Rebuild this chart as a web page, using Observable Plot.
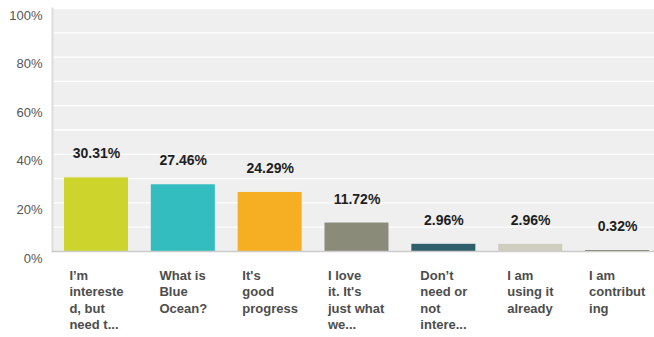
<!DOCTYPE html>
<html>
<head>
<meta charset="utf-8">
<script src="https://cdn.jsdelivr.net/npm/d3@7"></script>
<script src="https://cdn.jsdelivr.net/npm/@observablehq/plot@0.6"></script>
<style>
  body { margin: 0; background: #fff; }
  #chart svg { display: block; }
</style>
</head>
<body>
<div id="chart"></div>
<script>
const categories = ["interested", "whatis", "progress", "love", "dontneed", "using", "contributing"];
const tickLabels = [
  "I’m\nintereste\nd, but\nneed t...",
  "What is\nBlue\nOcean?",
  "It's\ngood\nprogress",
  "I love\nit. It's\njust what\nwe...",
  "Don’t\nneed or\nnot\nintere...",
  "I am\nusing it\nalready",
  "I am\ncontribut\ning"
];
const values = [30.31, 27.46, 24.29, 11.72, 2.96, 2.96, 0.32];
const colors = ["#cdd42b", "#33bdbf", "#f6ae22", "#8a8b78", "#2e5f6b", "#cfcdbf", "#5b6148"];
const yTicks = [0, 20, 40, 60, 80, 100];
const gridValues = [10, 20, 30, 40, 50, 60, 70, 80, 90, 100];

const data = categories.map((c, i) => ({cat: c, label: tickLabels[i], value: values[i], color: colors[i]}));
const labelOf = new Map(data.map(d => [d.cat, d.label]));

const chart = Plot.plot({
  width: 654,
  height: 337,
  marginLeft: 52,
  marginRight: 0,
  marginTop: 8,
  marginBottom: 86,
  style: {fontFamily: "'Liberation Sans', Arial, sans-serif", background: "#fff"},
  x: {domain: categories, range: [52, 661], paddingInner: 0.263, paddingOuter: 0.138, align: 0.5, round: false},
  y: {domain: [0, 100], label: null},
  marks: [
    Plot.frame({fill: "#efefef", stroke: null}),
    Plot.ruleY(gridValues, {stroke: "#fff", strokeWidth: 1.3}),
    Plot.barY(data, {x: "cat", y: "value", fill: "color", inset: 0}),
    Plot.frame({anchor: "left", stroke: "#dcdcdc", strokeWidth: 2}),
    Plot.frame({anchor: "bottom", stroke: "#cccccc", strokeWidth: 1.5}),
    Plot.text(data, {x: "cat", y: "value", text: d => d.value.toFixed(2) + "%", dy: -24, fontWeight: "bold", fontSize: 14, fill: "#1e1e1e"}),
    Plot.axisY({ticks: yTicks, tickSize: 0, tickPadding: 10, tickFormat: d => d + "%", dy: 7, fontSize: 13, fill: "#555", label: null}),
    Plot.axisX({tickSize: 0, tickPadding: 17, tickFormat: d => labelOf.get(d), fontSize: 13, fontWeight: "bold", fill: "#4d4d4d", lineHeight: 1.25, lineAnchor: "top", label: null})
  ]
});

document.getElementById("chart").appendChild(chart);

// left-align the lines of each x tick label within a centered block
chart.querySelectorAll('g[aria-label="x-axis tick label"] text').forEach(t => {
  const w = t.getBBox().width;
  t.setAttribute("text-anchor", "start");
  const tspans = t.querySelectorAll("tspan");
  if (tspans.length) tspans.forEach(s => s.setAttribute("x", -w / 2));
  else t.setAttribute("x", -w / 2);
});
</script>
</body>
</html>
